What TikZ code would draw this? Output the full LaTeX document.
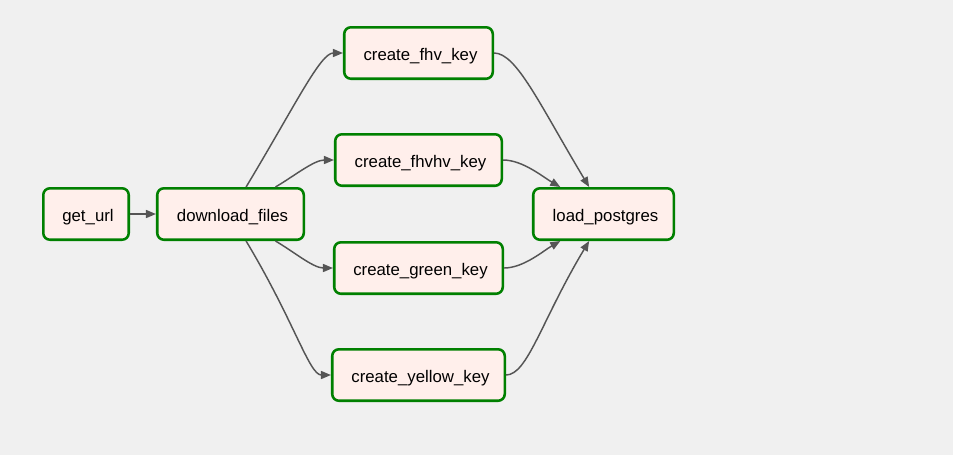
\documentclass[tikz,border=0pt]{standalone}
\usepackage{fontspec}
\setmainfont{Liberation Sans}
\usetikzlibrary{arrows.meta}
\definecolor{hintergrund}{HTML}{F0F0F0}
\definecolor{aufgabe}{HTML}{FFEFEB}
\definecolor{erfolg}{HTML}{008000}
\definecolor{kante}{HTML}{555555}

\begin{document}
\begin{tikzpicture}[x=0.75pt, y=-0.75pt,
    task/.style={draw=erfolg, fill=aufgabe, line width=1.9pt, rounded corners=5pt,
      minimum height=38.6pt, inner sep=0pt, text=black,
      text height=12.6pt, text depth=1pt,
      execute at begin node=\hspace*{3pt},
      font=\fontsize{12.6}{15}\selectfont},
    flow/.style={draw=kante, line width=1.1pt,
      -{Triangle[length=7.5pt, width=6pt]}}]
      % --- Hintergrund (fester Rahmen) ---
      \fill[hintergrund] (0,0) rectangle (953,455);
      \useasboundingbox (0,0) rectangle (953,455);

      % --- Aufgaben ---
      \node[task, minimum width=64.1pt]  (url)    at (86,214)    {get\_url};
      \node[task, minimum width=109.9pt] (dl)     at (230.5,214) {download\_files};
      \node[task, minimum width=111.4pt] (fhv)    at (418.5,53)  {create\_fhv\_key};
      \node[task, minimum width=124.9pt] (fhvhv)  at (418.5,160) {create\_fhvhv\_key};
      \node[task, minimum width=126.4pt] (green)  at (418.5,268) {create\_green\_key};
      \node[task, minimum width=129.4pt] (yellow) at (418.5,375) {create\_yellow\_key};
      \node[task, minimum width=105.4pt] (load)   at (603.5,214) {load\_postgres};

      % --- Kanten ---
      \draw[flow] (url) -- (dl);
      \draw[flow] (dl.60) to[out=59, in=180, out looseness=1.5, in looseness=0.35] (fhv.west);
      \draw[flow] (dl.31) to[out=30, in=180, looseness=0.8] (fhvhv.west);
      \draw[flow] (dl.-31) to[out=-30, in=180, looseness=0.8] (green.west);
      \draw[flow] (dl.-60) to[out=-59, in=180, out looseness=1.5, in looseness=0.35] (yellow.west);
      \draw[flow] (fhv.east) to[out=0, in=121, out looseness=0.35, in looseness=1.5] (load.118);
      \draw[flow] (fhvhv.east) to[out=0, in=150, looseness=0.8] (load.148);
      \draw[flow] (green.east) to[out=0, in=-150, looseness=0.8] (load.212);
      \draw[flow] (yellow.east) to[out=0, in=-121, out looseness=0.35, in looseness=1.5] (load.242);
\end{tikzpicture}
\end{document}
